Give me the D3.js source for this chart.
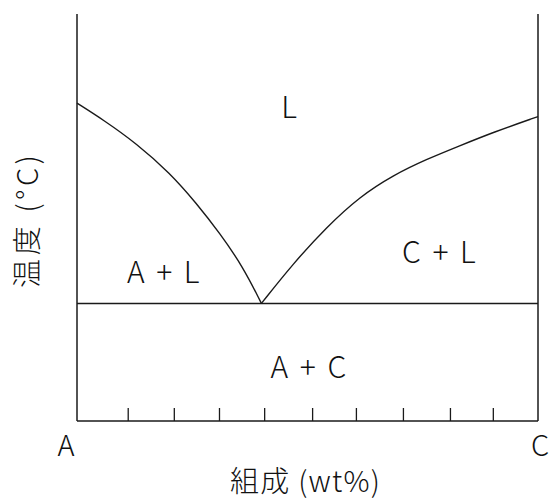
<!DOCTYPE html>
<html lang="ja">
  <head>
    <meta charset="utf-8" />
    <title>共晶型状態図</title>
    <style>
      html, body { margin: 0; padding: 0; background: #fff; }
      svg text {
        font-family: 'Noto Sans CJK JP', 'Noto Sans', sans-serif;
        font-weight: 300;
        fill: #111;
      }
      .frame, .curve { stroke: #1a1a1a; fill: none; }
    </style>
  </head>
  <body>
    <svg></svg>
    <script src="https://d3js.org/d3.v7.min.js"></script>
    <script type="text/javascript">
      let width = 549,
        height = 500

      // composition (wt% C) and temperature (arbitrary 0-100)
      const leftComp = [0, 5.7, 12.9, 20.2, 25.9, 31.0, 36.0, 40.0]
      const leftTemp = [78.1, 74.0, 68.2, 60.9, 53.5, 46.1, 37.9, 28.9]
      const rightComp = [40.0, 46.9, 54.1, 61.3, 68.6, 75.8, 83.0, 90.2, 100]
      const rightTemp = [28.9, 38.7, 47.6, 55.1, 60.4, 64.3, 67.6, 70.9, 74.8]
      const eutecticTemp = 28.9
      const tickValues = [11, 21, 30.8, 40.6, 51, 60.5, 70.7, 80.9, 90.2]

      const regionLabels = ['L', 'A + L', 'C + L', 'A + C']
      const regionComp = [46, 18.7, 78.5, 50.2]
      const regionTemp = [74.5, 33.9, 38.9, 10.5]

      let svg = d3.select('svg').attr('width', width).attr('height', height)

      let x = d3.scaleLinear().domain([0, 100]).range([77, 538])
      let y = d3.scaleLinear().domain([0, 100]).range([421, 14])

      // frame: left and right sides
      let frame = svg.append('g').attr('class', 'frame').attr('stroke-width', 1.5)
      frame.append('line').attr('x1', x(0)).attr('x2', x(0)).attr('y1', y(0)).attr('y2', y(100))
      frame.append('line').attr('x1', x(100)).attr('x2', x(100)).attr('y1', y(0)).attr('y2', y(100))

      // bottom axis with inward ticks
      svg
        .append('g')
        .attr('transform', `translate(0,${y(0)})`)
        .call(d3.axisTop(x).tickValues(tickValues).tickSize(13).tickFormat(''))
        .call((g) => g.select('.domain').attr('d', `M${x(0)},0H${x(100)}`).attr('stroke', '#1a1a1a').attr('stroke-width', 1.5))
        .call((g) => g.selectAll('.tick line').attr('stroke', '#1a1a1a').attr('stroke-width', 1.3))

      // eutectic line
      svg
        .append('line')
        .attr('class', 'curve')
        .attr('stroke-width', 1.5)
        .attr('x1', x(0))
        .attr('x2', x(100))
        .attr('y1', y(eutecticTemp))
        .attr('y2', y(eutecticTemp))

      // liquidus curves
      let line = d3
        .line()
        .x((d) => x(d[0]))
        .y((d) => y(d[1]))
        .curve(d3.curveBasis)

      svg
        .append('path')
        .attr('class', 'curve')
        .attr('stroke-width', 1.4)
        .attr('d', line(d3.zip(leftComp, leftTemp)))

      svg
        .append('path')
        .attr('class', 'curve')
        .attr('stroke-width', 1.4)
        .attr('d', line(d3.zip(rightComp, rightTemp)))

      // region labels
      svg
        .append('g')
        .selectAll('text')
        .data(regionLabels)
        .join('text')
        .attr('x', (d, i) => x(regionComp[i]))
        .attr('y', (d, i) => y(regionTemp[i]))
        .attr('text-anchor', 'middle')
        .attr('font-size', 30)
        .attr('word-spacing', 5)
        .text((d) => d)

      // end member labels
      svg.append('text').attr('x', x(0) - 11).attr('y', 456).attr('text-anchor', 'middle')
        .attr('font-size', 29).text('A')
      svg.append('text').attr('x', x(100) + 2).attr('y', 456).attr('text-anchor', 'middle')
        .attr('font-size', 29).text('C')

      // axis titles
      svg.append('text').attr('x', 230).attr('y', 492)
        .attr('font-size', 29).attr('textLength', 150).attr('lengthAdjust', 'spacing').text('組成 (wt%)')
      svg.append('text').attr('transform', 'translate(38,288) rotate(-90)')
        .attr('font-size', 29).attr('textLength', 133).attr('lengthAdjust', 'spacing').text('温度 (°C)')
    </script>
  </body>
</html>
